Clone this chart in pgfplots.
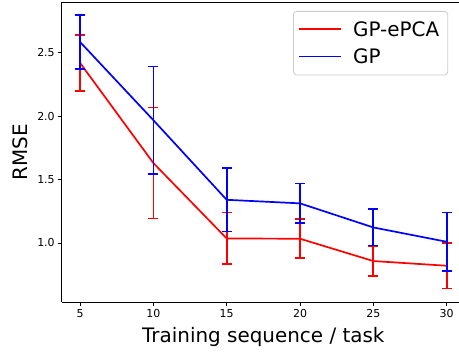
\documentclass[border=0pt]{standalone}
\usepackage{pgfplots}
\pgfplotsset{compat=1.18}
\usepackage{fontspec}
\setmainfont{DejaVu Sans}
\definecolor{legframe}{RGB}{204,204,204}
\begin{document}
\begin{tikzpicture}
\useasboundingbox (-61.7bp,-50bp) rectangle (397.3bp,302bp);
\begin{axis}[
  at={(0,0)}, anchor=south west,
  scale only axis, width=403.3bp, height=300bp,
  xmin=3.75, xmax=31.25, ymin=0.534, ymax=2.90,
  axis x line*=bottom, axis y line*=left,
  xtick={5,10,15,20,25,30}, ytick={1.0,1.5,2.0,2.5},
  yticklabel style={/pgf/number format/fixed, /pgf/number format/fixed zerofill, /pgf/number format/precision=1},
  /pgf/number format/assume math mode=true,
  tick label style={font=\fontsize{11}{13}\selectfont},
  tick align=outside, major tick length=3.5bp,
  every tick/.style={black, line width=0.8bp},
  axis line style={line width=0.8bp, -},
  xlabel={Training sequence / task}, ylabel={RMSE},
  label style={font=\fontsize{20}{24}\selectfont},
  xlabel style={at={(axis description cs:0.5,0)}, anchor=base, yshift=-40bp},
  ylabel style={at={(axis description cs:-0.1034,0.5)}, anchor=center},
  legend cell align=left,
  legend image code/.code={\path[draw=none, fill=none] (0bp,0bp) -- (50.2bp,0bp);\draw[#1, line width=1.7bp] (0bp,0.25bp) -- (42bp,0.25bp);},
  legend style={at={(axis description cs:0.574,0.97)}, anchor=north west,
    font=\fontsize{20}{24}\selectfont, draw=legframe, line width=0.8bp, rounded corners=3bp,
    inner xsep=4.5bp, inner ysep=8bp, row sep=7bp,
    nodes={inner xsep=4bp, inner ysep=2bp}},
]
\draw[line width=0.8bp] (rel axis cs:0,1) -- (rel axis cs:1,1);
\addplot[red, line width=1.7bp, mark=none,
  error bars/.cd, y dir=both, y explicit,
  error bar style={line width=1.7bp, red},
  error mark options={line width=1.7bp, mark size=5bp, rotate=90, red}]
table[x=x, y=y, y error=e] {
x y e
5 2.420 0.220
10 1.630 0.438
15 1.035 0.204
20 1.033 0.154
25 0.857 0.120
30 0.820 0.180
};
\addlegendentry{GP-ePCA}
\addplot[blue, line width=1.7bp, mark=none,
  error bars/.cd, y dir=both, y explicit,
  error bar style={line width=1.7bp, blue},
  error mark options={line width=1.7bp, mark size=5bp, rotate=90, blue}]
table[x=x, y=y, y error=e] {
x y e
5 2.585 0.212
10 1.968 0.424
15 1.340 0.250
20 1.312 0.157
25 1.122 0.143
30 1.009 0.230
};
\addlegendentry{GP}
\end{axis}
\end{tikzpicture}
\end{document}
